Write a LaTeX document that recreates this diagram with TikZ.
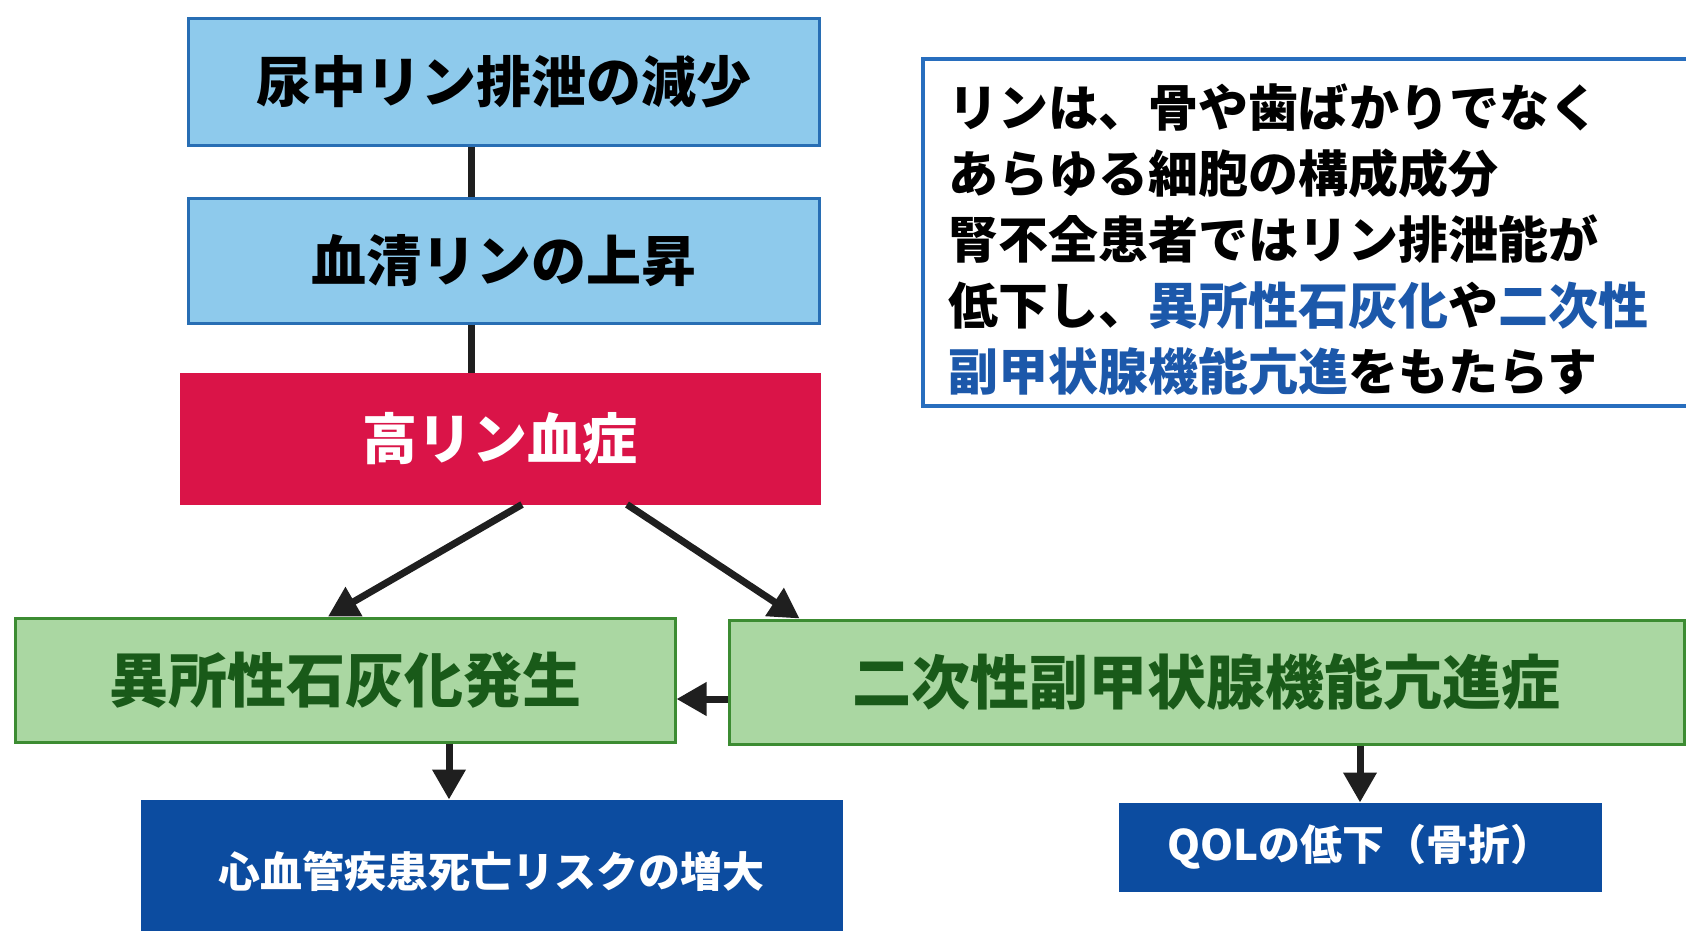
\documentclass[tikz,border=0pt]{standalone}
\usepackage{fontspec}
\setmainfont{Noto Sans CJK JP}
\usetikzlibrary{arrows.meta,calc}
\definecolor{lblue}{RGB}{142,202,236}
\definecolor{lblueb}{RGB}{40,110,180}
\definecolor{hred}{RGB}{218,20,72}
\definecolor{lgreen}{RGB}{170,215,162}
\definecolor{lgreenb}{RGB}{60,140,50}
\definecolor{dgreen}{RGB}{25,90,25}
\definecolor{dblue}{RGB}{12,76,160}
\definecolor{infob}{RGB}{40,110,190}
\definecolor{tblue}{RGB}{28,88,170}
\begin{document}
\begin{tikzpicture}[x=1pt,y=-1pt,
  box/.style={draw, line width=3pt, inner sep=0pt, font=\bfseries\fontsize{55}{60}\selectfont},
  bluebox/.style={box, fill=lblue, draw=lblueb, text=black},
  redbox/.style={box, fill=hred, draw=hred, text=white},
  greenbox/.style={box, fill=lgreen, draw=lgreenb, text=dgreen, font=\bfseries\fontsize{59}{64}\selectfont},
  darkbox/.style={box, fill=dblue, draw=dblue, text=white, font=\bfseries\fontsize{42}{48}\selectfont},
  conn/.style={line width=7pt, draw=black!88},
  arr/.style={conn, -{Triangle[length=30pt,width=32pt]}}
]
\useasboundingbox (0,0) rectangle (1686,930);
\begin{scope}
\clip (0,0) rectangle (1686,930);
\fill[white] (0,0) rectangle (1686,930);

% top chain
\node[bluebox, minimum width=631pt, minimum height=127pt] (b1) at (503.5,81.5) {尿中リン排泄の減少};
\node[bluebox, minimum width=631pt, minimum height=125pt] (b2) at (503.5,260.5) {血清リンの上昇};
\node[redbox, minimum width=638pt, minimum height=129pt] (b3) at (500,438.5) {高リン血症};

% middle row
\node[greenbox, minimum width=660pt, minimum height=124pt] (b4) at (345,680) {異所性石灰化発生};
\node[greenbox, minimum width=955pt, minimum height=124pt] (b5) at (1206.5,682) {二次性副甲状腺機能亢進症};

% bottom row
\node[darkbox, minimum width=699pt, minimum height=140pt] (b6) at (491.5,871) {心血管疾患死亡リスクの増大};
\node[darkbox, minimum width=480pt, minimum height=86pt] (b7) at (1360,847) {QOLの低下（骨折）};

% info box
\node[draw=infob, line width=3.5pt, fill=white, minimum width=777pt, minimum height=347pt, inner sep=0pt] (info) at (1311.5,232.5) {};
\node[anchor=west, align=left, inner sep=0pt, font=\bfseries\fontsize{50}{66}\selectfont] (infotext) at (948,240)
  {リンは、骨や歯ばかりでなく\\
   あらゆる細胞の構成成分\\
   腎不全患者ではリン排泄能が\\
   低下し、\textcolor{tblue}{異所性石灰化}や\textcolor{tblue}{二次性}\\
   \textcolor{tblue}{副甲状腺機能亢進}をもたらす};

% connectors
\coordinate (vx) at (471,0);
\draw[conn] (b1.south -| vx) -- (b2.north -| vx);
\draw[conn] (b2.south -| vx) -- (b3.north -| vx);
\draw[arr] ($(b3.south)+(22,0)$) -- ($(b4.north)+(-17,0)$);
\draw[arr] ($(b3.south)+(127,0)$) -- ($(b5.north west)+(72,0)$);
\draw[arr] ($(b5.west)+(0,17)$) -- ($(b4.east)+(0,19)$);
\draw[arr] ($(b4.south)+(104,0)$) -- ($(b6.north)+(-42.5,0)$);
\draw[arr] (b5.south -| b7.north) -- (b7.north);
\end{scope}
\end{tikzpicture}
\end{document}
